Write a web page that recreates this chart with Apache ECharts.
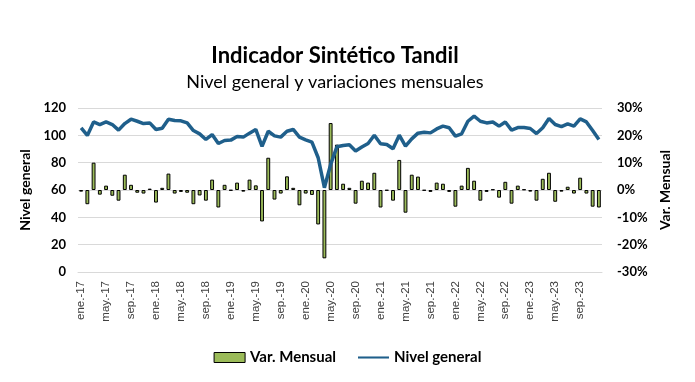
<!DOCTYPE html>
<html>
<head>
<meta charset="utf-8">
<script src="https://cdn.jsdelivr.net/npm/echarts@6/dist/echarts.min.js"></script>
<style>html,body{margin:0;padding:0;background:#fff}#c{width:695px;height:382px}</style>
</head>
<body>
<div id="c"></div>
<script>
var categories = [
 'ene.-17','feb.-17','mar.-17','abr.-17','may.-17','jun.-17','jul.-17','ago.-17','sep.-17','oct.-17','nov.-17','dic.-17',
 'ene.-18','feb.-18','mar.-18','abr.-18','may.-18','jun.-18','jul.-18','ago.-18','sep.-18','oct.-18','nov.-18','dic.-18',
 'ene.-19','feb.-19','mar.-19','abr.-19','may.-19','jun.-19','jul.-19','ago.-19','sep.-19','oct.-19','nov.-19','dic.-19',
 'ene.-20','feb.-20','mar.-20','abr.-20','may.-20','jun.-20','jul.-20','ago.-20','sep.-20','oct.-20','nov.-20','dic.-20',
 'ene.-21','feb.-21','mar.-21','abr.-21','may.-21','jun.-21','jul.-21','ago.-21','sep.-21','oct.-21','nov.-21','dic.-21',
 'ene.-22','feb.-22','mar.-22','abr.-22','may.-22','jun.-22','jul.-22','ago.-22','sep.-22','oct.-22','nov.-22','dic.-22',
 'ene.-23','feb.-23','mar.-23','abr.-23','may.-23','jun.-23','jul.-23','ago.-23','sep.-23','oct.-23','nov.-23','dic.-23'
];
var nivelGeneral = [
 105.5, 99.9, 109.8, 107.9, 109.8, 107.9, 103.8, 108.6, 111.8, 110.3, 108.6, 109.1,
 104.3, 105.2, 111.8, 110.8, 110.6, 109.1, 103.5, 101.1, 97.0, 100.6, 94.0, 96.2,
 96.5, 99.1, 98.7, 101.6, 104.3, 91.9, 103.0, 99.6, 98.7, 103.0, 104.3, 98.7,
 96.7, 95.0, 83.6, 61.7, 78.7, 91.6, 92.6, 93.1, 88.5, 91.4, 94.0, 100.1,
 93.8, 93.3, 90.2, 100.1, 92.1, 97.4, 101.6, 102.3, 101.8, 104.7, 106.7, 105.5,
 99.4, 101.1, 110.3, 114.0, 110.3, 109.1, 109.8, 106.7, 109.8, 103.8, 105.7, 105.7,
 105.0, 101.3, 105.5, 112.3, 107.9, 106.4, 108.4, 106.7, 112.0, 109.8, 103.5, 97.0
];
var varMensual = [
 -0.6, -5.2, 10.0, -1.7, 1.6, -2.1, -3.9, 5.6, 1.9, -1.0, -1.3, 0.5,
 -4.6, 0.8, 6.0, -1.3, -0.7, -1.0, -5.2, -2.0, -3.9, 3.8, -6.4, 1.9,
 -0.2, 2.7, -0.6, 3.8, 1.7, -11.5, 11.8, -3.5, -1.3, 5.0, 0.8, -5.6,
 -1.3, -1.8, -12.6, -25.0, 24.5, 16.6, 2.3, 0.8, -5.0, 3.4, 2.7, 6.3,
 -6.4, -0.2, -3.9, 11.0, -8.3, 5.6, 4.9, -0.2, -0.7, 2.7, 2.3, -0.7,
 -6.1, 1.6, 8.1, 3.4, -3.9, -0.7, 0.2, -2.8, 3.0, -5.0, 1.6, 0.2,
 -0.6, -3.9, 4.1, 6.3, -4.3, -0.6, 1.2, -1.3, 4.5, -1.3, -6.1, -6.4
];
var leftTicks = {min: 0, max: 120, interval: 20};
var rightTicks = {min: -30, max: 30, interval: 10};

var FONT = 'Lato';
var chart = echarts.init(document.getElementById('c'), null, {renderer: 'canvas'});
chart.setOption({
  animation: false,
  backgroundColor: '#fff',
  textStyle: {fontFamily: FONT},
  title: [
    {text: 'Indicador Sintético Tandil', left: 330, top: 40, textAlign: 'center',
     textStyle: {fontFamily: FONT, fontSize: 22, fontWeight: 'bold', color: '#000'}},
    {text: 'Nivel general y variaciones mensuales', left: 330, top: 68, textAlign: 'center',
     textStyle: {fontFamily: FONT, fontSize: 18, fontWeight: 'normal', color: '#000'}}
  ],
  legend: {
    bottom: 12, left: 'center',
    itemWidth: 31, itemHeight: 10, itemGap: 22,
    textStyle: {fontFamily: FONT, fontSize: 15, fontWeight: 'bold', color: '#000'},
    data: [
      {name: 'Var. Mensual', icon: 'rect', itemStyle: {color: '#9BBB59', borderColor: '#000', borderWidth: 1}},
      {name: 'Nivel general', icon: 'path://M0,4 L30,4 L30,6 L0,6 Z', itemStyle: {color: '#1F5F8B'}}
    ]
  },
  grid: {left: 78, right: 93, top: 108, bottom: 110, containLabel: false},
  xAxis: {
    type: 'category', data: categories, boundaryGap: true,
    axisLine: {show: true, lineStyle: {color: '#D9D9D9'}},
    axisTick: {show: false},
    axisLabel: {rotate: 90, interval: 3, margin: 9, fontSize: 11.5, color: '#404040', fontFamily: 'Liberation Sans'}
  },
  yAxis: [
    {type: 'value', min: leftTicks.min, max: leftTicks.max, interval: leftTicks.interval,
     name: 'Nivel general', nameLocation: 'middle', nameGap: 44, nameRotate: 90,
     nameTextStyle: {fontFamily: FONT, fontSize: 14, fontWeight: 'bold', color: '#000'},
     axisLine: {show: false}, axisTick: {show: false},
     axisLabel: {margin: 12, fontSize: 13, fontWeight: 'bold', color: '#000', fontFamily: FONT},
     splitLine: {lineStyle: {color: '#D9D9D9'}}},
    {type: 'value', min: rightTicks.min, max: rightTicks.max, interval: rightTicks.interval, position: 'right',
     name: 'Var. Mensual', nameLocation: 'middle', nameGap: 52, nameRotate: 90,
     nameTextStyle: {fontFamily: FONT, fontSize: 14, fontWeight: 'bold', color: '#000'},
     axisLine: {show: false}, axisTick: {show: false},
     axisLabel: {margin: 15, fontSize: 13, fontWeight: 'bold', color: '#000', fontFamily: FONT, formatter: '{value}%'},
     splitLine: {show: false}}
  ],
  series: [
    {name: 'Var. Mensual', type: 'bar', yAxisIndex: 1, data: varMensual, barWidth: '62%',
     itemStyle: {color: '#9BBB59', borderColor: '#000', borderWidth: 1}, z: 2},
    {name: 'Nivel general', type: 'line', yAxisIndex: 0, data: nivelGeneral, symbol: 'none',
     lineStyle: {color: '#1F5F8B', width: 3.5}, itemStyle: {color: '#1F5F8B'}, z: 3}
  ]
});
</script>
</body>
</html>
